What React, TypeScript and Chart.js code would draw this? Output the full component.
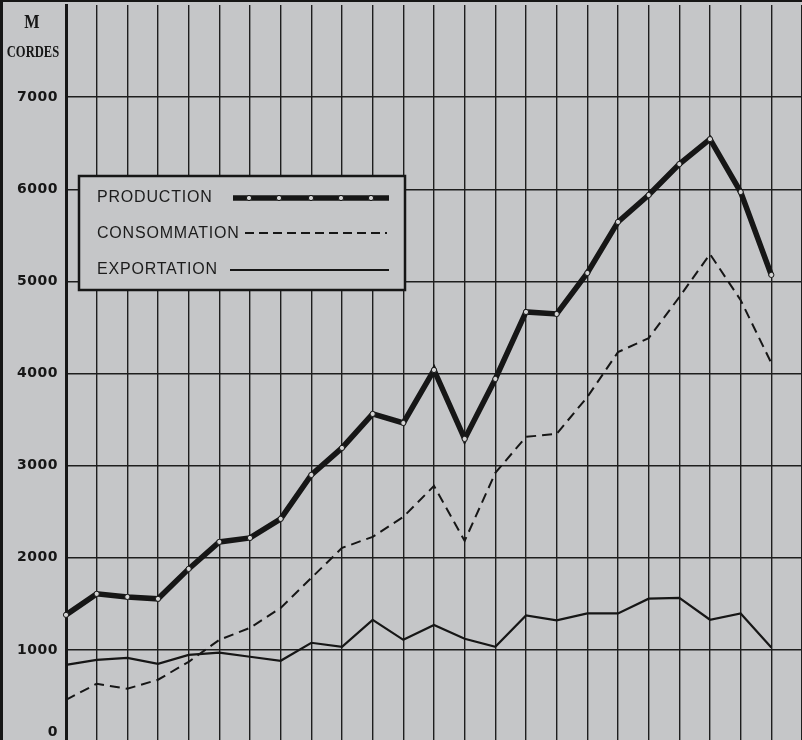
import { useEffect, useRef } from "react";
import { Chart, registerables } from "chart.js";

Chart.register(...registerables);

const categories = ["1", "2", "3", "4", "5", "6", "7", "8", "9", "10", "11", "12", "13", "14", "15", "16", "17", "18", "19", "20", "21", "22", "23", "24"];
const production = [1380, 1608, 1575, 1554, 1879, 2172, 2215, 2422, 2899, 3192, 3561, 3463, 4038, 3290, 3941, 4668, 4646, 5091, 5645, 5937, 6273, 6544, 5970, 5070];
const consommation = [458, 632, 578, 676, 870, 1109, 1239, 1456, 1781, 2107, 2227, 2444, 2780, 2183, 2921, 3312, 3345, 3745, 4232, 4384, 4830, 5296, 4796, 4113];
const exportation = [838, 892, 913, 848, 946, 970, 925, 882, 1077, 1033, 1326, 1109, 1270, 1120, 1033, 1374, 1320, 1396, 1396, 1556, 1565, 1327, 1396, 1026];
const yTickValues = [0, 1000, 2000, 3000, 4000, 5000, 6000, 7000];
const yTickLabels = ["0", "1000", "2000", "3000", "4000", "5000", "6000", "7000"];
const legendLabels = ["PRODUCTION", "CONSOMMATION", "EXPORTATION"];

const BG = "#c5c6c8";
const INK = "#161616";

const decorPlugin = {
  id: "decor",
  beforeDraw(chart: any) {
    const ctx = chart.ctx;
    ctx.save();
    ctx.fillStyle = BG;
    ctx.fillRect(0, 0, chart.width, chart.height);
    ctx.restore();
  },
  afterDatasetsDraw(chart: any) {
    const ctx = chart.ctx;
    const yScale = chart.scales.y;
    ctx.save();
    // outer left line & top line
    ctx.fillStyle = INK;
    ctx.fillRect(0, 0, 3, chart.height);
    ctx.fillRect(0, 0, chart.width, 2);

    // y tick labels
    ctx.font = "bold 14px 'DejaVu Sans'";
    ctx.textAlign = "right";
    ctx.textBaseline = "middle";
    ctx.fillStyle = INK;
    (ctx as any).letterSpacing = "0.5px";
    yTickValues.forEach((v, i) => {
      let y = yScale.getPixelForValue(v);
      if (v === 0) y -= 10;
      ctx.fillText(yTickLabels[i], 58, y);
    });
    (ctx as any).letterSpacing = "0px";

    // axis title
    ctx.textAlign = "center";
    ctx.save();
    ctx.translate(32, 23);
    ctx.scale(0.9, 1);
    ctx.font = "bold 18px 'Liberation Serif'";
    ctx.fillText("M", 0, 0);
    ctx.restore();
    ctx.save();
    ctx.translate(33, 53);
    ctx.scale(0.74, 1);
    ctx.font = "bold 17px 'Liberation Serif'";
    ctx.fillText("CORDES", 0, 0);
    ctx.restore();

    // legend box
    const bx = 79, by = 176, bw = 326, bh = 114;
    ctx.fillStyle = BG;
    ctx.fillRect(bx, by, bw, bh);
    ctx.strokeStyle = INK;
    ctx.lineWidth = 2.5;
    ctx.strokeRect(bx, by, bw, bh);

    ctx.fillStyle = "#1c1c1c";
    ctx.textAlign = "left";
    ctx.font = "16px 'Liberation Sans'";
    (ctx as any).letterSpacing = "0.8px";
    ctx.fillText(legendLabels[0], 97, 198);
    ctx.fillText(legendLabels[1], 97, 234);
    ctx.fillText(legendLabels[2], 97, 270);
    (ctx as any).letterSpacing = "0px";

    // production sample
    ctx.strokeStyle = INK;
    ctx.lineWidth = 5.5;
    ctx.beginPath();
    ctx.moveTo(233, 198);
    ctx.lineTo(389, 198);
    ctx.stroke();
    [249, 279, 311, 341, 371].forEach((x) => {
      ctx.beginPath();
      ctx.arc(x, 198, 2.6, 0, Math.PI * 2);
      ctx.fillStyle = "#d4d4d4";
      ctx.fill();
      ctx.lineWidth = 1;
      ctx.stroke();
    });
    // consommation sample
    ctx.lineWidth = 2;
    ctx.setLineDash([9, 5]);
    ctx.beginPath();
    ctx.moveTo(245, 233);
    ctx.lineTo(387, 233);
    ctx.stroke();
    ctx.setLineDash([]);
    // exportation sample
    ctx.lineWidth = 2;
    ctx.beginPath();
    ctx.moveTo(230, 270);
    ctx.lineTo(389, 270);
    ctx.stroke();
    ctx.restore();
  },
};

export default function App() {
  const ref = useRef<HTMLCanvasElement | null>(null);

  useEffect(() => {
    if (!ref.current) return;
    const toPts = (arr: number[]) => categories.map((_, i) => ({ x: i, y: arr[i] }));
    const gridColor = "#1e1e1e";
    const chart = new Chart(ref.current, {
      type: "line",
      data: {
        datasets: [
          {
            label: legendLabels[1],
            data: toPts(consommation),
            borderColor: INK,
            borderWidth: 2,
            borderDash: [10, 6],
            pointRadius: 0,
            tension: 0,
            clip: false,
          } as any,
          {
            label: legendLabels[2],
            data: toPts(exportation),
            borderColor: INK,
            borderWidth: 2.2,
            pointRadius: 0,
            tension: 0,
            clip: false,
          } as any,
          {
            label: legendLabels[0],
            data: toPts(production),
            borderColor: INK,
            borderWidth: 5.5,
            pointRadius: 2.6,
            pointBackgroundColor: "#d4d4d4",
            pointBorderColor: INK,
            pointBorderWidth: 1,
            tension: 0,
            clip: false,
          } as any,
        ],
      },
      options: {
        animation: false,
        responsive: false,
        maintainAspectRatio: false,
        devicePixelRatio: 1,
        layout: { padding: { left: 66, right: 0, top: 1, bottom: 8 } },
        plugins: { legend: { display: false }, tooltip: { enabled: false } },
        scales: {
          x: {
            type: "linear",
            min: 0,
            max: 24,
            ticks: { display: false, stepSize: 1 },
            grid: { color: gridColor, lineWidth: 1.4, drawTicks: false },
            border: { display: false },
          },
          y: {
            type: "linear",
            min: 0,
            max: 8000,
            afterBuildTicks: (s: any) => {
              s.ticks = yTickValues.map((v) => ({ value: v }));
            },
            ticks: { display: false },
            grid: { color: gridColor, lineWidth: 1.4, drawTicks: false },
            border: { display: true, color: INK, width: 3 },
          },
        },
      },
      plugins: [decorPlugin],
    });
    return () => chart.destroy();
  }, []);

  return (
    <div
      style={{
        position: "fixed",
        left: 0,
        top: 0,
        width: 802,
        height: 740,
        overflow: "hidden",
        background: BG,
      }}
    >
      <canvas ref={ref} width={807} height={750} style={{ display: "block" }} />
    </div>
  );
}
